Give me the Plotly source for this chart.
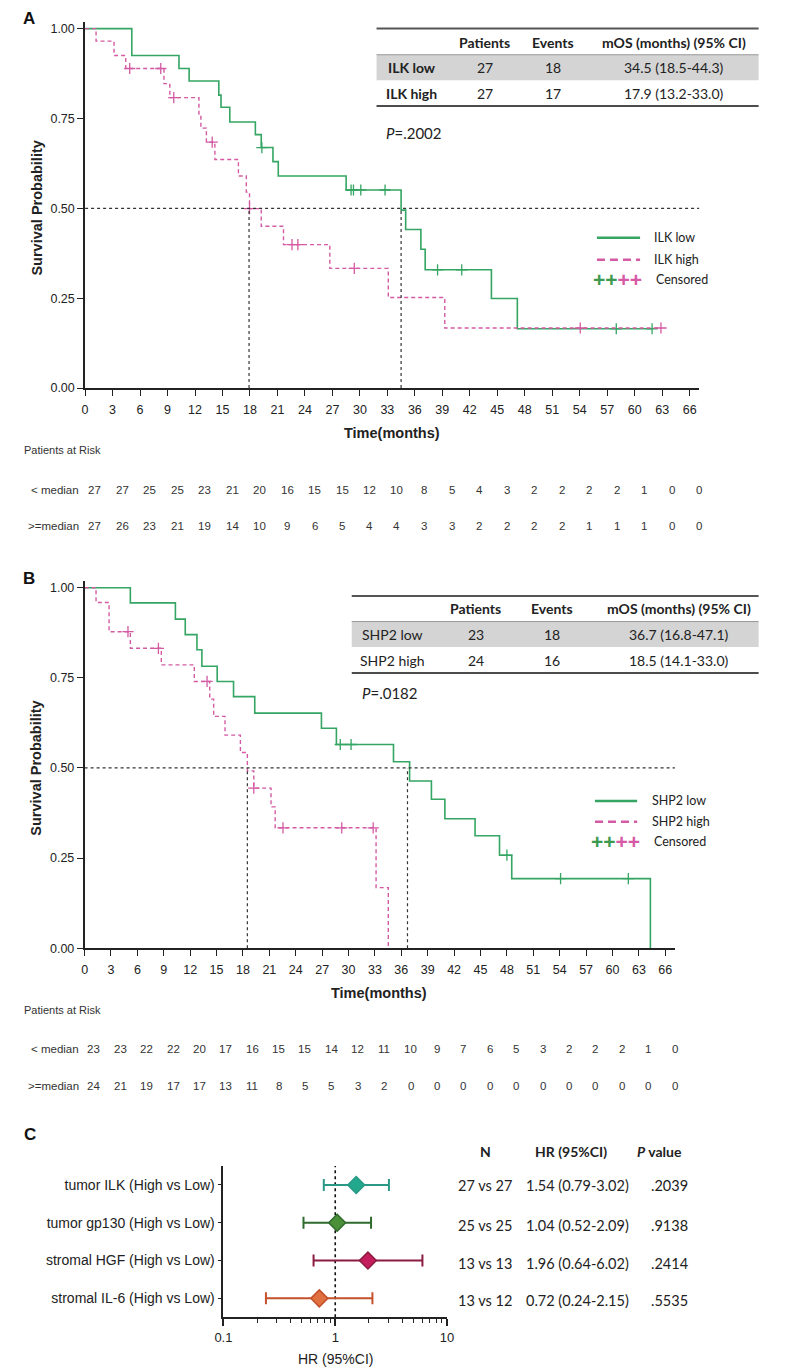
import plotly.graph_objects as go

W, H = 787, 1370

# ---------------- DATA ----------------
time_ticks = list(range(0, 67, 3))

# Panel A: ILK
ilk_low_t = [0, 5.1, 10.25, 11.36, 14.6, 14.84, 15.8, 18.59, 19.23, 20.51, 21.09, 28.5, 34.5, 35.0, 36.66, 37.13, 44.36, 47.19]
ilk_low_s = [1.0, 0.925, 0.889, 0.854, 0.815, 0.781, 0.740, 0.705, 0.669, 0.630, 0.590, 0.551, 0.495, 0.441, 0.386, 0.329, 0.249, 0.165]
ilk_low_end = 61.9
ilk_low_cens = [19.3, 29.04, 29.3, 30.1, 32.75, 38.48, 41.12, 57.99, 61.9]

ilk_high_t = [0, 1.2, 3.16, 4.44, 8.61, 9.25, 12.43, 12.64, 13.24, 14.17, 16.74, 17.6, 17.95, 19.23, 21.66, 26.72, 33.1, 39.27]
ilk_high_s = [1.0, 0.965, 0.925, 0.889, 0.847, 0.808, 0.762, 0.723, 0.684, 0.636, 0.590, 0.545, 0.499, 0.450, 0.399, 0.333, 0.252, 0.167]
ilk_high_end = 62.87
ilk_high_cens = [4.87, 8.26, 9.68, 13.88, 17.95, 22.59, 23.23, 29.39, 54.06, 62.87]

# Panel B: SHP2
shp_low_t = [0, 5.2, 10.32, 11.44, 12.77, 13.33, 15.07, 16.93, 19.34, 26.92, 28.62, 35.11, 36.94, 39.42, 40.95, 44.38, 47.16, 48.55, 64.31]
shp_low_s = [1.0, 0.958, 0.913, 0.870, 0.828, 0.782, 0.740, 0.698, 0.652, 0.610, 0.565, 0.517, 0.464, 0.413, 0.359, 0.312, 0.258, 0.193, 0.0]
shp_low_end = 64.31
shp_low_cens = [29.06, 30.29, 48.0, 54.1, 61.8]

shp_high_t = [0, 1.3, 2.78, 5.2, 8.72, 12.47, 14.22, 14.67, 15.96, 17.71, 18.5, 19.23, 21.19, 21.66, 33.13, 34.52]
shp_high_s = [1.0, 0.959, 0.878, 0.832, 0.786, 0.740, 0.691, 0.643, 0.591, 0.543, 0.492, 0.444, 0.392, 0.334, 0.168, 0.0]
shp_high_end = 34.52
shp_high_cens = [4.93, 8.39, 13.92, 19.23, 22.55, 29.23, 32.8]

# Summary tables
tblA_rows = ["ILK low", "ILK high"]
tblA_patients = [27, 27]
tblA_events = [18, 17]
tblA_med = [34.5, 17.9]
tblA_lo = [18.5, 13.2]
tblA_hi = [44.3, 33.0]
pA = ".2002"

tblB_rows = ["SHP2 low", "SHP2 high"]
tblB_patients = [23, 24]
tblB_events = [18, 16]
tblB_med = [36.7, 18.5]
tblB_lo = [16.8, 14.1]
tblB_hi = [47.1, 33.0]
pB = ".0182"

# Patients at risk
riskA_low = [27, 27, 25, 25, 23, 21, 20, 16, 15, 15, 12, 10, 8, 5, 4, 3, 2, 2, 2, 2, 1, 0, 0]
riskA_high = [27, 26, 23, 21, 19, 14, 10, 9, 6, 5, 4, 4, 3, 3, 2, 2, 2, 2, 1, 1, 1, 0, 0]
riskB_low = [23, 23, 22, 22, 20, 17, 16, 15, 15, 14, 12, 11, 10, 9, 7, 6, 5, 3, 2, 2, 2, 1, 0]
riskB_high = [24, 21, 19, 17, 17, 13, 11, 8, 5, 5, 3, 2, 0, 0, 0, 0, 0, 0, 0, 0, 0, 0, 0]

# Forest plot
f_labels = ["tumor ILK (High vs Low)", "tumor gp130 (High vs Low)", "stromal HGF (High vs Low)", "stromal IL-6 (High vs Low)"]
f_hr = [1.54, 1.04, 1.96, 0.72]
f_lo = [0.79, 0.52, 0.64, 0.24]
f_hi = [3.02, 2.09, 6.02, 2.15]
f_n = ["27 vs 27", "25 vs 25", "13 vs 13", "13 vs 12"]
f_p = [".2039", ".9138", ".2414", ".5535"]

# ---------------- STYLE ----------------
GREEN = "#34a562"
PINK = "#d35aa3"
AX = "Liberation Sans, Arial, sans-serif"
TB = "Lato, Calibri, sans-serif"
f_line = ["#2a9a86", "#2f6b2c", "#8c1b41", "#c4502c"]
f_fill = ["#22a88c", "#4b8f38", "#c41d5d", "#e0703f"]


def X(px):
    return px / W


def Y(py):
    return 1 - py / H


def step_val(ts, ss, t):
    v = ss[0]
    for a, b in zip(ts, ss):
        if a <= t:
            v = b
    return v


fig = go.Figure()
ann = []
shapes = []


def km_panel(xa, ya, curves, medians, xend):
    for ts, ss, end, cens, col, dash, w in curves:
        fig.add_trace(go.Scatter(x=ts + [end], y=ss + [ss[-1]], mode="lines", line_shape="hv",
                                 line=dict(color=col, width=w, dash=dash), xaxis=xa, yaxis=ya,
                                 showlegend=False, hoverinfo="skip"))
        fig.add_trace(go.Scatter(x=cens, y=[step_val(ts, ss, c) for c in cens], mode="markers",
                                 marker=dict(symbol="cross-thin", size=8, line=dict(color=col, width=1.3)),
                                 xaxis=xa, yaxis=ya, showlegend=False, hoverinfo="skip", cliponaxis=False))
    fig.add_trace(go.Scatter(x=[0, xend], y=[0.5, 0.5], mode="lines",
                             line=dict(color="#333", width=1.2, dash="dot"), xaxis=xa, yaxis=ya,
                             showlegend=False, hoverinfo="skip"))
    for m in medians:
        fig.add_trace(go.Scatter(x=[m, m], y=[0, 0.5], mode="lines",
                                 line=dict(color="#333", width=1.2, dash="dot"), xaxis=xa, yaxis=ya,
                                 showlegend=False, hoverinfo="skip"))


km_panel("x", "y",
         [(ilk_low_t, ilk_low_s, ilk_low_end, ilk_low_cens, GREEN, "solid", 1.6),
          (ilk_high_t, ilk_high_s, ilk_high_end, ilk_high_cens, PINK, "4px,3px", 1.4)],
         tblA_med, 67.06)
km_panel("x2", "y2",
         [(shp_low_t, shp_low_s, shp_low_end, shp_low_cens, GREEN, "solid", 1.6),
          (shp_high_t, shp_high_s, shp_high_end, shp_high_cens, PINK, "4px,3px", 1.4)],
         tblB_med, 67.1)

# Forest plot
yrows = [3, 2, 1, 0]
fig.add_trace(go.Scatter(x=[1, 1], y=[-0.5, 3.5], mode="lines", line=dict(color="#111", width=1.6, dash="dot"),
                         xaxis="x3", yaxis="y3", showlegend=False, hoverinfo="skip"))
for i in range(4):
    fig.add_trace(go.Scatter(
        x=[f_hr[i]], y=[yrows[i]], mode="markers", xaxis="x3", yaxis="y3", showlegend=False, hoverinfo="skip",
        marker=dict(symbol="diamond", size=13, color=f_fill[i], line=dict(color=f_line[i], width=1.5)),
        error_x=dict(type="data", symmetric=False, array=[f_hi[i] - f_hr[i]], arrayminus=[f_hr[i] - f_lo[i]],
                     color=f_line[i], thickness=2, width=6)))

axis_common = dict(showgrid=False, zeroline=False, showline=True, linecolor="#222", linewidth=1.6,
                   ticks="outside", ticklen=6, tickwidth=1.4, tickcolor="#222",
                   tickfont=dict(family=AX, size=12.5, color="#222"))

fig.update_layout(
    width=W, height=H, margin=dict(l=0, r=0, t=0, b=0), paper_bgcolor="white", plot_bgcolor="white",
    xaxis=dict(domain=[X(69.5), X(696.5)], range=[0, 67.06], tickvals=time_ticks, anchor="y",
               ticklabelstandoff=3, **axis_common),
    yaxis=dict(domain=[Y(382), Y(14)], range=[0, 1.0185], tickvals=[0, 0.25, 0.5, 0.75, 1.0],
               tickformat=".2f", anchor="x", **axis_common),
    xaxis2=dict(domain=[X(69), X(671.6)], range=[0, 67.1], tickvals=time_ticks, anchor="y2",
                ticklabelstandoff=3, **axis_common),
    yaxis2=dict(domain=[Y(945), Y(576)], range=[0, 1.0185], tickvals=[0, 0.25, 0.5, 0.75, 1.0],
                tickformat=".2f", anchor="x2", **axis_common),
    xaxis3=dict(domain=[X(210.7), X(439)], type="log", range=[-1, 1], tickvals=[0.1, 1, 10],
                ticktext=["0.1", "1", "10"], anchor="y3",
                minor=dict(tickvals=[0.2, 0.3, 0.4, 0.5, 0.6, 0.7, 0.8, 0.9, 2, 3, 4, 5, 6, 7, 8, 9],
                           ticks="outside", ticklen=4, tickcolor="#222", tickwidth=1.2),
                showgrid=False, zeroline=False, showline=True, linecolor="#222", linewidth=1.8,
                ticks="outside", ticklen=7, tickwidth=1.5, tickcolor="#222",
                tickfont=dict(family=AX, size=13, color="#222")),
    yaxis3=dict(domain=[Y(1316), Y(1164)], range=[-0.5, 3.5], tickvals=yrows, ticktext=f_labels, anchor="x3",
                showgrid=False, zeroline=False, showline=True, linecolor="#222", linewidth=1.8,
                ticks="outside", ticklen=4, tickwidth=1.4, tickcolor="#222",
                tickfont=dict(family=AX, size=14, color="#222")),
)


def text(px, py, s, size, family=TB, bold=False, xanchor="center", color="#222", angle=0, italic=False):
    if bold:
        s = "<b>" + s + "</b>"
    if italic:
        s = "<i>" + s + "</i>"
    ann.append(dict(x=X(px), y=Y(py), xref="paper", yref="paper", text=s, showarrow=False,
                    xanchor=xanchor, yanchor="middle", textangle=angle,
                    font=dict(family=family, size=size, color=color)))


# Panel letters and axis titles
text(4, 11, "A", 17, AX, bold=True, xanchor="left", color="#111")
text(4, 573, "B", 17, AX, bold=True, xanchor="left", color="#111")
text(5, 1132, "C", 17, AX, bold=True, xanchor="left", color="#111")
text(20, 201, "Survival Probability", 14.5, AX, bold=True, angle=-90)
text(20, 764, "Survival Probability", 14.5, AX, bold=True, angle=-90)
text(383, 427, "Time(months)", 14.5, AX, bold=True)
text(370, 990, "Time(months)", 14.5, AX, bold=True)

# Risk tables
RISK_OFF = 1.05
for (rl, rh, xr, y_title, y1, y2) in [(riskA_low, riskA_high, "x", 444, 484.5, 520.7),
                                       (riskB_low, riskB_high, "x2", 1006.7, 1046, 1083.3)]:
    text(5, y_title, "Patients at Risk", 11, AX, xanchor="left", color="#333")
    text(65, y1, "&lt; median", 11.5, AX, xanchor="right", color="#333")
    text(65, y2, "&gt;=median", 11.5, AX, xanchor="right", color="#333")
    for t, a, b in zip(time_ticks, rl, rh):
        for val, yy in [(a, y1), (b, y2)]:
            ann.append(dict(x=t + RISK_OFF, y=Y(yy), xref=xr, yref="paper", text=str(val), showarrow=False,
                            xanchor="center", yanchor="middle", font=dict(family=AX, size=11.5, color="#333")))


# Summary tables
def summary_table(left, right, ytop, yband0, yband1, ybot, yhead, yr, rows, pats, evs, meds, los, his,
                  cx_lab, cx_pat, cx_ev, cx_mos, bold_rows, pval, py_p):
    shapes.append(dict(type="rect", xref="paper", yref="paper", x0=X(left), x1=X(right), y0=Y(yband1),
                       y1=Y(yband0), fillcolor="#d4d4d4", line=dict(width=0), layer="below"))
    shapes.append(dict(type="line", xref="paper", yref="paper", x0=X(left), x1=X(right), y0=Y(ytop), y1=Y(ytop),
                       line=dict(color="#555", width=2)))
    shapes.append(dict(type="line", xref="paper", yref="paper", x0=X(left), x1=X(right), y0=Y(yband0),
                       y1=Y(yband0), line=dict(color="#999", width=1)))
    shapes.append(dict(type="line", xref="paper", yref="paper", x0=X(left), x1=X(right), y0=Y(ybot), y1=Y(ybot),
                       line=dict(color="#111", width=1.5)))
    text(cx_pat, yhead, "Patients", 14, bold=True)
    text(cx_ev, yhead, "Events", 14, bold=True)
    text(cx_mos, yhead, "mOS (months) (95% CI)", 14, bold=True)
    for i in range(2):
        text(cx_lab, yr[i], rows[i], 14, bold=bold_rows)
        text(cx_pat, yr[i], str(pats[i]), 14)
        text(cx_ev, yr[i], str(evs[i]), 14)
        text(cx_mos, yr[i], f"{meds[i]:.1f} ({los[i]:.1f}-{his[i]:.1f})", 14)
    text(left + 8, py_p, "<i>P</i>=" + pval, 15, xanchor="left")


summary_table(367, 757, 20.7, 47, 72.5, 98.5, 35, [60, 85.5], tblA_rows, tblA_patients, tblA_events,
              tblA_med, tblA_lo, tblA_hi, 403, 477.7, 546.7, 671, True, pA, 126)
summary_table(341.7, 757, 591, 616.7, 642.3, 668.3, 604, [629.7, 655.7], tblB_rows, tblB_patients,
              tblB_events, tblB_med, tblB_lo, tblB_hi, 383, 468.3, 546, 676, False, pB, 689)


# Legends
def km_legend(y1, y2, y3, lab1, lab2, x0, x1, xt):
    shapes.append(dict(type="line", xref="paper", yref="paper", x0=X(x0), x1=X(x1), y0=Y(y1), y1=Y(y1),
                       line=dict(color=GREEN, width=2.5)))
    shapes.append(dict(type="line", xref="paper", yref="paper", x0=X(x0), x1=X(x1), y0=Y(y2), y1=Y(y2),
                       line=dict(color=PINK, width=2.5, dash="8px,5px")))
    text(xt, y1, lab1, 12.5, xanchor="left")
    text(xt, y2, lab2, 12.5, xanchor="left")
    ann.append(dict(x=X((x0 + x1) / 2 - 1), y=Y(y3), xref="paper", yref="paper", showarrow=False,
                    xanchor="center", yanchor="middle",
                    text='<b><span style="color:#3d9a4f">++</span><span style="color:#d65aa5">++</span></b>',
                    font=dict(family=AX, size=21)))
    text(xt + 2, y3, "Censored", 12.5, xanchor="left")


km_legend(231, 253, 273, "ILK low", "ILK high", 592, 636, 648)
km_legend(797, 818, 838, "SHP2 low", "SHP2 high", 590, 633, 646)

# Forest text columns
text(478, 1149.3, "N", 14, bold=True)
text(565, 1149.3, "HR (95%CI)", 14, bold=True)
text(656, 1149.3, "<i>P</i> value", 14, bold=True)
f_rows_py = [1183.3, 1224, 1262, 1299.5]
for i in range(4):
    text(478, f_rows_py[i], f_n[i], 14.5)
    text(572, f_rows_py[i], f"{f_hr[i]:.2f} ({f_lo[i]:.2f}-{f_hi[i]:.2f})", 14.5)
    text(666.5, f_rows_py[i], f_p[i], 14.5)
text(325, 1358, "HR (95%CI)", 14, AX)

fig.update_layout(annotations=ann, shapes=shapes)
fig.write_html("out.html")
